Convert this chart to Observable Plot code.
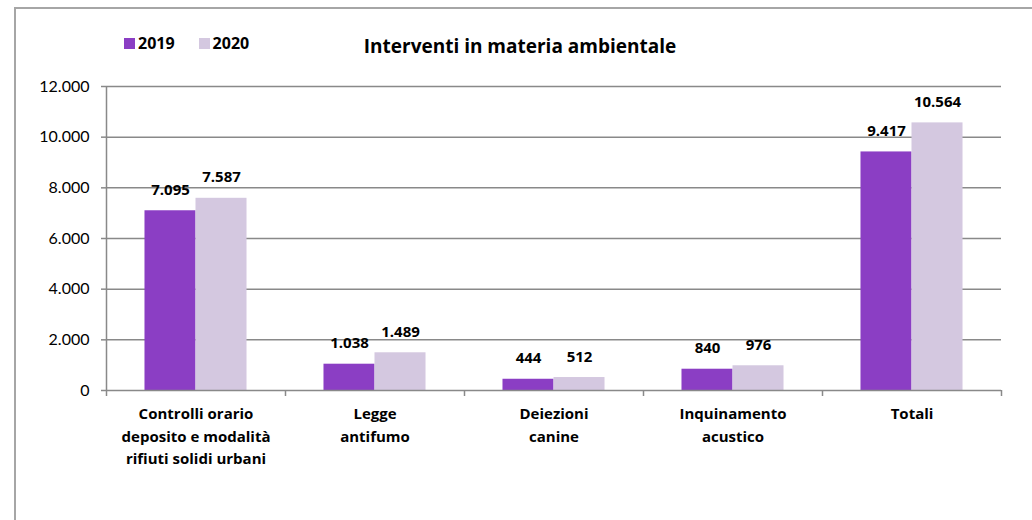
<!DOCTYPE html>
<html>
<head>
<meta charset="utf-8">
<script src="https://cdn.jsdelivr.net/npm/d3@7"></script>
<script src="https://cdn.jsdelivr.net/npm/@observablehq/plot@0.6"></script>
<style>
  html, body { margin: 0; padding: 0; background: #fff; }
  body { width: 1032px; height: 520px; overflow: hidden; position: relative; font-family: "Open Sans", Lato, sans-serif; }
  #frame { position: absolute; left: 14px; top: 7px; width: 1100px; height: 600px; border-left: 2px solid #a6a6a6; border-top: 2px solid #a6a6a6; box-sizing: border-box; }
  #chart { position: absolute; left: 0; top: 0; }
  #legend { position: absolute; left: 124px; top: 32px; font-weight: bold; font-size: 16px; display: flex; align-items: center; }
  .sw { display: inline-block; width: 11px; height: 11px; margin-right: 3px; }
  .item { display: flex; align-items: center; margin-right: 24px; color: #000; }
  #title { position: absolute; left: 0; width: 1040px; top: 33px; text-align: center; font-weight: bold; font-size: 19px; color: #000; }
</style>
</head>
<body>
<div id="frame"></div>
<div id="chart"></div>
<div id="legend"></div>
<div id="title">Interventi in materia ambientale</div>
<script>
const categories = [
  "Controlli orario\ndeposito e modalità\nrifiuti solidi urbani",
  "Legge\nantifumo",
  "Deiezioni\ncanine",
  "Inquinamento\nacustico",
  "Totali"
];
const series = ["2019", "2020"];
const values2019 = [7095, 1038, 444, 840, 9417];
const values2020 = [7587, 1489, 512, 976, 10564];
const yTicks = [0, 2000, 4000, 6000, 8000, 10000, 12000];
const colors = ["#8b3ec4", "#d4c8e0"];

const itFormat = d3.formatLocale({decimal: ",", thousands: ".", grouping: [3], currency: ["€", ""]}).format(",d");

const rows = [];
categories.forEach((c, i) => {
  rows.push({cat: c, i, series: "2019", value: values2019[i]});
  rows.push({cat: c, i, series: "2020", value: values2020[i]});
});
const barW = 0.285;
rows.forEach(r => {
  const k = series.indexOf(r.series);
  r.x1 = r.i + 0.5 - barW + k * barW;
  r.x2 = r.x1 + barW;
  r.xc = (r.x1 + r.x2) / 2;
});
const catRows = categories.map((c, i) => ({cat: c, xc: i + 0.5}));
const boundaries = d3.range(categories.length + 1);

const grid = "#898989";
const boldFont = "'Open Sans', Lato, sans-serif";

const plot = Plot.plot({
  width: 1032,
  height: 520,
  marginLeft: 106,
  marginRight: 31,
  marginTop: 86,
  marginBottom: 130,
  style: {fontFamily: "Lato, 'Open Sans', sans-serif", fontSize: "16px", color: "#000", background: "transparent"},
  x: {type: "linear", domain: [0, categories.length], axis: null},
  y: {domain: [0, 12000], axis: null},
  color: {domain: series, range: colors},
  marks: [
    Plot.ruleY(yTicks.filter(d => d > 0), {stroke: grid, strokeWidth: 1.5}),
    Plot.rectY(rows, {x1: "x1", x2: "x2", y: "value", fill: "series"}),
    Plot.ruleY([0], {stroke: grid, strokeWidth: 1.5}),
    Plot.ruleX([0], {stroke: grid, strokeWidth: 1.5}),
    Plot.axisY({ticks: yTicks, tickFormat: itFormat, tickSize: 5, tickPadding: 12, stroke: grid, strokeWidth: 1.5, fontSize: 16, fill: "#000", label: null}),
    Plot.axisX({ticks: boundaries, tickFormat: () => "", tickSize: 6, stroke: grid, strokeWidth: 1.5, label: null}),
    Plot.text(rows, {x: "xc", y: "value", text: d => itFormat(d.value), lineAnchor: "bottom", dy: -16, fontWeight: "bold", fontSize: 15, fontFamily: boldFont, fill: "#000"}),
    Plot.text(catRows, {x: "xc", y: 0, text: "cat", lineAnchor: "top", dy: 13, lineHeight: 1.5, fontWeight: "bold", fontSize: 15, fontFamily: boldFont, fill: "#000"})
  ]
});
document.getElementById("chart").appendChild(plot);

const legend = document.getElementById("legend");
series.forEach((s, k) => {
  const it = document.createElement("span");
  it.className = "item";
  const sw = document.createElement("span");
  sw.className = "sw";
  sw.style.background = colors[k];
  it.appendChild(sw);
  it.appendChild(document.createTextNode(s));
  legend.appendChild(it);
});
</script>
</body>
</html>
